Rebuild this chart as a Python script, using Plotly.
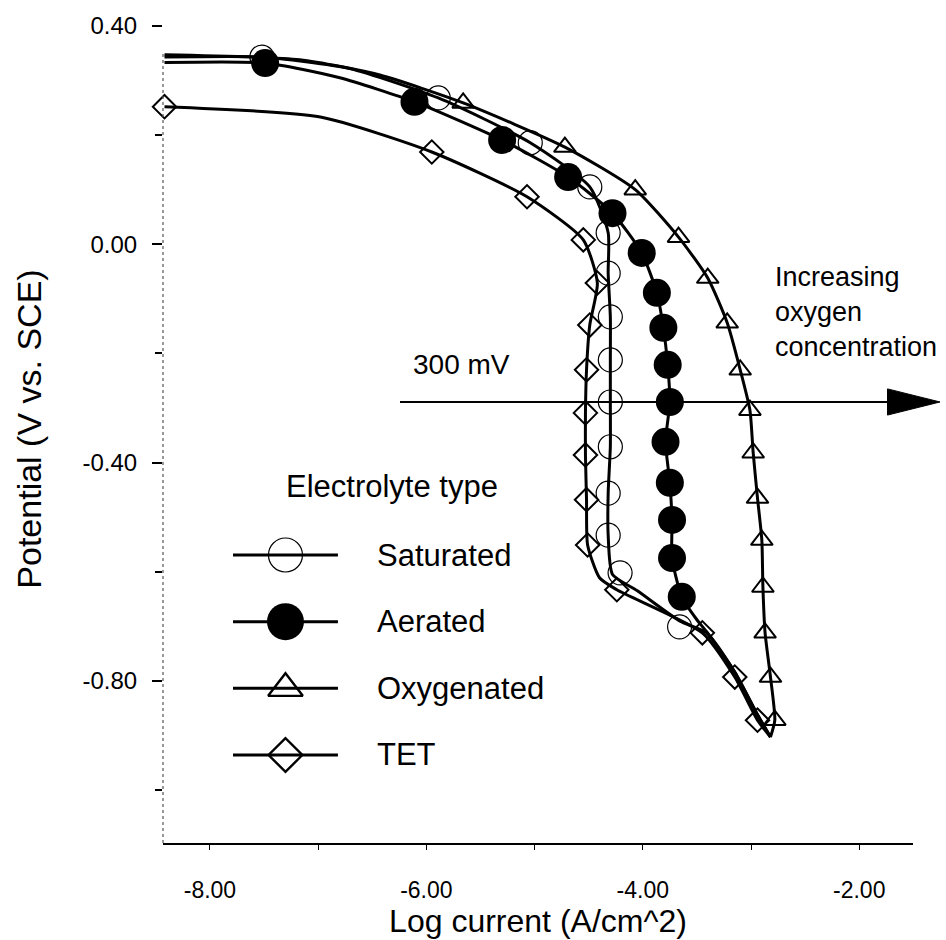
import plotly.graph_objects as go

# ---------------- data ----------------
sat_line_x = [-8.42, -7.52, -6.71, -5.89, -5.04, -4.49, -4.32, -4.32, -4.30, -4.30, -4.30, -4.30,
              -4.32, -4.32, -4.28, -4.05, -3.66, -3.41, -3.15, -2.94, -2.82]
sat_line_y = [0.343, 0.343, 0.322, 0.268, 0.186, 0.105, 0.021, -0.053, -0.133, -0.212, -0.289, -0.371,
              -0.456, -0.533, -0.605, -0.635, -0.690, -0.712, -0.784, -0.862, -0.903]
sat_mark_x = [-7.52, -5.89, -5.04, -4.49, -4.32, -4.32, -4.30, -4.30, -4.30, -4.30, -4.32, -4.32, -4.21, -3.66]
sat_mark_y = [0.343, 0.268, 0.186, 0.105, 0.021, -0.053, -0.133, -0.212, -0.289, -0.371, -0.456, -0.533,
              -0.602, -0.701]

aer_line_x = [-8.42, -7.49, -6.80, -6.11, -5.30, -4.69, -4.28, -4.01, -3.87, -3.81, -3.77, -3.75, -3.79,
              -3.75, -3.73, -3.73, -3.64, -3.50, -3.41, -3.15, -2.94, -2.82]
aer_line_y = [0.333, 0.332, 0.305, 0.261, 0.191, 0.123, 0.057, -0.016, -0.089, -0.153, -0.221, -0.289,
              -0.362, -0.437, -0.505, -0.575, -0.646, -0.688, -0.710, -0.784, -0.862, -0.903]
aer_mark_x = [-7.49, -6.11, -5.30, -4.69, -4.28, -4.01, -3.87, -3.81, -3.77, -3.75, -3.79, -3.75, -3.73,
              -3.73, -3.64]
aer_mark_y = [0.332, 0.261, 0.191, 0.123, 0.057, -0.016, -0.089, -0.153, -0.221, -0.289, -0.362, -0.437,
              -0.505, -0.575, -0.646]

oxy_line_x = [-8.42, -7.17, -6.43, -5.66, -4.72, -4.07, -3.67, -3.40, -3.22, -3.10, -3.01, -2.98, -2.94,
              -2.90, -2.89, -2.87, -2.82, -2.78, -2.82]
oxy_line_y = [0.347, 0.338, 0.310, 0.259, 0.178, 0.100, 0.013, -0.062, -0.144, -0.230, -0.304, -0.382,
              -0.465, -0.542, -0.628, -0.712, -0.793, -0.872, -0.903]
oxy_mark_x = [-5.66, -4.72, -4.07, -3.67, -3.40, -3.22, -3.10, -3.01, -2.98, -2.94, -2.90, -2.89, -2.87,
              -2.82, -2.78]
oxy_mark_y = [0.259, 0.178, 0.100, 0.013, -0.062, -0.144, -0.230, -0.304, -0.382, -0.465, -0.542, -0.628,
              -0.712, -0.793, -0.872]

tet_line_x = [-8.42, -6.98, -5.95, -5.07, -4.55, -4.42, -4.49, -4.52, -4.53, -4.53, -4.52, -4.51, -4.40,
              -4.24, -3.45, -3.15, -2.94, -2.82]
tet_line_y = [0.252, 0.233, 0.169, 0.087, 0.008, -0.071, -0.148, -0.230, -0.309, -0.386, -0.468, -0.551,
              -0.611, -0.633, -0.712, -0.793, -0.872, -0.903]
tet_mark_x = [-8.42, -5.95, -5.07, -4.55, -4.42, -4.49, -4.52, -4.53, -4.53, -4.52, -4.51, -4.24, -3.45,
              -3.15, -2.94]
tet_mark_y = [0.252, 0.169, 0.087, 0.008, -0.071, -0.148, -0.230, -0.309, -0.386, -0.468, -0.551, -0.633,
              -0.712, -0.793, -0.872]

series_names = ["Saturated", "Aerated", "Oxygenated", "TET"]
legend_title = "Electrolyte type"

x_tick_vals = [-8, -6, -4, -2]
x_tick_text = ["-8.00", "-6.00", "-4.00", "-2.00"]
x_minor_vals = [-7, -5, -3]
y_tick_vals = [0.4, 0.0, -0.4, -0.8]
y_tick_text = ["0.40", "0.00", "-0.40", "-0.80"]
y_minor_vals = [0.2, -0.2, -0.6, -1.0]

arrow_y = -0.289          # the 300 mV line
label_300 = "300 mV"
label_oxygen = "Increasing<br>oxygen<br>concentration"

# ---------------- styles / layout constants ----------------
FONT = "Liberation Sans, Arial, Helvetica, sans-serif"
BLACK = "#000000"
LINE_W = 3

styles = [
    dict(symbol="circle-open", size=24, line=dict(color=BLACK, width=1.2), color=BLACK),
    dict(symbol="circle", size=28, color=BLACK, line=dict(color=BLACK, width=0)),
    dict(symbol="triangle-up-open", size=19, color=BLACK, line=dict(color=BLACK, width=2)),
    dict(symbol="diamond-open", size=18, color=BLACK, line=dict(color=BLACK, width=2)),
]
legend_styles = [
    dict(symbol="circle-open", size=34, line=dict(color=BLACK, width=1.2), color=BLACK),
    dict(symbol="circle", size=37, color=BLACK, line=dict(color=BLACK, width=0)),
    dict(symbol="triangle-up-open", size=30, color=BLACK, line=dict(color=BLACK, width=2.4)),
    dict(symbol="diamond-open", size=26, color=BLACK, line=dict(color=BLACK, width=2.4)),
]

# legend block geometry (paper fractions): first / last row centres
LEG_X_DOMAIN = [0.0933, 0.2333]
LEG_ROW_TOP = 0.3478
LEG_ROW_BOTTOM = 0.1063
LEG_TEXT_X = 0.2827
LEG_HEAD_X = 0.3053
LEG_HEAD_Y = 0.430

n_rows = len(series_names)
row_step = (LEG_ROW_TOP - LEG_ROW_BOTTOM) / (n_rows - 1)
leg_y_domain = [LEG_ROW_BOTTOM - row_step / 2, LEG_ROW_TOP + row_step / 2]

lines = [(sat_line_x, sat_line_y), (aer_line_x, aer_line_y), (oxy_line_x, oxy_line_y), (tet_line_x, tet_line_y)]
marks = [(sat_mark_x, sat_mark_y), (aer_mark_x, aer_mark_y), (oxy_mark_x, oxy_mark_y), (tet_mark_x, tet_mark_y)]

fig = go.Figure()

for name, (lx, ly), (mx, my), st in zip(series_names, lines, marks, styles):
    fig.add_trace(go.Scatter(x=lx, y=ly, mode="lines", name=name, showlegend=False,
                             line=dict(color=BLACK, width=LINE_W, shape="spline", smoothing=0.6),
                             hoverinfo="skip"))
    fig.add_trace(go.Scatter(x=mx, y=my, mode="markers", name=name, showlegend=False,
                             marker=st, cliponaxis=False))

# ---------------- custom legend on an overlay axis ----------------
for i, (name, st) in enumerate(zip(series_names, legend_styles)):
    fig.add_trace(go.Scatter(x=[0, 1], y=[i, i], mode="lines", xaxis="x2", yaxis="y2",
                             line=dict(color=BLACK, width=LINE_W), showlegend=False,
                             cliponaxis=False, hoverinfo="skip"))
    fig.add_trace(go.Scatter(x=[0.5], y=[i], mode="markers", xaxis="x2", yaxis="y2",
                             marker=st, showlegend=False, cliponaxis=False, hoverinfo="skip"))
    row_y = LEG_ROW_TOP - i * row_step
    fig.add_annotation(x=LEG_TEXT_X, y=row_y, xref="paper", yref="paper", text=name, showarrow=False,
                       xanchor="left", yanchor="middle", font=dict(family=FONT, size=31, color=BLACK))
fig.add_annotation(x=LEG_HEAD_X, y=LEG_HEAD_Y, xref="paper", yref="paper", text=legend_title,
                   showarrow=False, xanchor="center", yanchor="middle",
                   font=dict(family=FONT, size=31, color=BLACK))

# ---------------- annotations ----------------
fig.add_annotation(x=-5.68, y=-0.221, xref="x", yref="y", text=label_300, showarrow=False,
                   xanchor="center", yanchor="middle", font=dict(family=FONT, size=28, color=BLACK))
fig.add_annotation(x=-2.80, y=-0.124, xref="x", yref="y", text=label_oxygen, showarrow=False,
                   xanchor="left", yanchor="middle", align="left",
                   font=dict(family=FONT, size=27, color=BLACK))

# horizontal arrow (extends past the plot frame)
fig.add_shape(type="line", xref="paper", yref="y", x0=0.316, x1=0.975, y0=arrow_y, y1=arrow_y,
              line=dict(color=BLACK, width=2))
fig.add_shape(type="path", xref="paper", yref="y",
              path=f"M 1.036,{arrow_y} L 0.966,{arrow_y + 0.024} L 0.966,{arrow_y - 0.024} Z",
              fillcolor=BLACK, line=dict(color=BLACK, width=1))

# dashed left axis line
fig.add_shape(type="line", xref="paper", yref="y", x0=0, x1=0, y0=-1.097, y1=0.35,
              line=dict(color="#555555", width=1.2, dash="dot"))

fig.update_layout(
    width=946, height=940,
    margin=dict(l=163, r=33, t=15, b=97, autoexpand=False),
    paper_bgcolor="white", plot_bgcolor="white",
    showlegend=False,
    font=dict(family=FONT, color=BLACK),
    xaxis=dict(range=[-8.434, -1.503], showgrid=False, zeroline=False,
               showline=True, linecolor=BLACK, linewidth=2,
               tickmode="array", tickvals=x_tick_vals, ticktext=x_tick_text,
               ticks="outside", ticklen=5, tickwidth=1, tickcolor=BLACK,
               ticklabelstandoff=20,
               minor=dict(tickmode="array", tickvals=x_minor_vals, ticks="outside", ticklen=5,
                          tickwidth=1, tickcolor=BLACK, showgrid=False),
               tickfont=dict(family=FONT, size=23, color=BLACK),
               title=dict(text="Log current (A/cm^2)", font=dict(family=FONT, size=32, color=BLACK),
                          standoff=4)),
    yaxis=dict(range=[-1.097, 0.420], showgrid=False, zeroline=False, showline=False,
               tickmode="array", tickvals=y_tick_vals, ticktext=y_tick_text,
               ticks="outside", ticklen=10, tickwidth=1.5, tickcolor=BLACK,
               ticklabelstandoff=10,
               minor=dict(tickmode="array", tickvals=y_minor_vals, ticks="outside", ticklen=7,
                          tickwidth=1.5, tickcolor=BLACK, showgrid=False),
               tickfont=dict(family=FONT, size=24, color=BLACK),
               title=dict(text="Potential (V vs. SCE)", font=dict(family=FONT, size=34, color=BLACK),
                          standoff=30)),
    xaxis2=dict(domain=LEG_X_DOMAIN, range=[0, 1], anchor="y2", visible=False, fixedrange=True),
    yaxis2=dict(domain=leg_y_domain, range=[n_rows - 0.5, -0.5], anchor="x2", visible=False,
                fixedrange=True),
)

fig.write_html("out.html", config={"displayModeBar": False},
               post_script="document.body.style.margin='0';")
